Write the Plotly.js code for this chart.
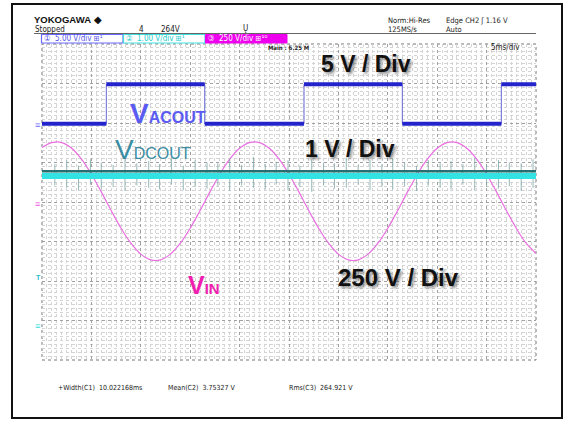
<!DOCTYPE html>
<html><head><meta charset="utf-8">
<script src="https://cdn.plot.ly/plotly-3.0.1.min.js"></script>
<style>
html,body{margin:0;padding:0;background:#fff;overflow:hidden}
#chart{width:566px;height:422px;position:absolute;left:0;top:0}
#frame{position:absolute;left:11px;top:3px;width:548px;height:412px;border:2px solid #111;pointer-events:none}
</style></head>
<body><div id="chart"></div><div id="frame"></div>
<script>
// ---- data ----
const timeMs = [0,1,2,3,4,5,6,7,8,9,10,11,12,13,14,15,16,17,18,19,20,21,22,23,24,25,26,27,28,29,30,31,32,33,34,35,36,37,38,39,40,41,42,43,44,45,46,47,48,49,50];
const vinVolts = [345,376,376,340,271,176,64,-54,-166,-261,-330,-366,-366,-330,-261,-166,-54,64,176,271,340,376,376,340,271,176,64,-54,-166,-261,-330,-366,-366,-330,-261,-166,-54,64,176,271,340,376,376,340,271,176,64,-54,-166,-261,-325];
const acoutEdgesMs = [6.51,16.47,26.52,36.47,46.49];
const acoutLevelsV = [0.1,5.1];           // low, high
const dcoutTimeMs = [0,50];
const dcoutVolts = [3.8,3.8];
const dcoutNoiseTopV = [3.92,3.92];
const spikeTimesMs = [1.3,2.5,3.7,4.9,6.0,7.2,8.4,9.6,10.8,11.9,13.1,14.3,15.5,16.7,17.8,19.0,20.2,21.4,22.6,23.7,24.9,26.1,27.3,28.5,29.6,30.8,32.0,33.2,34.4,35.5,36.7,37.9,39.1,40.3,41.4,42.6,43.8,45.0,46.2,47.3,48.5,49.7];
const spikeUpV   = [0.30,0.40,0.26,0.42,0.34,0.28,0.44,0.32,0.38,0.30,0.46,0.26,0.40,0.34,0.32,0.44,0.28,0.48,0.30,0.36,0.40,0.26,0.42,0.34,0.32,0.46,0.28,0.40,0.30,0.44,0.34,0.26,0.40,0.32,0.38,0.30,0.46,0.28,0.40,0.34,0.32,0.42];
const spikeDownV = [0.24,0.30,0.36,0.22,0.32,0.28,0.38,0.24,0.30,0.34,0.22,0.36,0.28,0.32,0.26,0.38,0.24,0.30,0.34,0.22,0.36,0.28,0.40,0.24,0.32,0.30,0.22,0.36,0.28,0.34,0.26,0.38,0.24,0.30,0.34,0.22,0.36,0.28,0.32,0.26,0.38,0.30];
const measureLabels = ["+Width(C1)  10.022168ms","Mean(C2)  3.75327 V","Rms(C3)  264.921 V"];
const channelLabels = ["\u2460  5.00 V/div \u229e\u00b9","\u2461  1.00 V/div \u229e\u00b9","\u2462  250 V/div \u229e\u00b9\u2070"];

// ---- channel setup (scale in V/div, ground position in div from centre) ----
const ch1 = {scale:5, pos:1.96}, ch2 = {scale:1, pos:-3.14}, ch3 = {scale:250, pos:0};
const rng = c => [(-4 - c.pos)*c.scale, (4 - c.pos)*c.scale];

// build square wave
const sqX = [0], sqY = [acoutLevelsV[0]];
const thickX = [0], thickY = [acoutLevelsV[0]];
let lvl = 0;
acoutEdgesMs.forEach(e => {
  sqX.push(e, e); sqY.push(acoutLevelsV[lvl], acoutLevelsV[1-lvl]);
  thickX.push(e, null, e); thickY.push(acoutLevelsV[lvl], null, acoutLevelsV[1-lvl]);
  lvl = 1-lvl;
});
sqX.push(50); sqY.push(acoutLevelsV[lvl]);
thickX.push(50); thickY.push(acoutLevelsV[lvl]);

const spX = [], spY = [];
spikeTimesMs.forEach((t,i) => { spX.push(t,t,null); spY.push(dcoutVolts[0]+spikeUpV[i], dcoutVolts[0]-spikeDownV[i], null); });

const traces = [
  {x:timeMs, y:vinVolts, yaxis:'y', mode:'lines', line:{color:'#ea6fe2', width:1.2, shape:'spline'}, hoverinfo:'skip'},
  {x:spX, y:spY, yaxis:'y3', mode:'lines', line:{color:'#7aa5a5', width:0.8}, hoverinfo:'skip'},
  {x:dcoutTimeMs, y:dcoutVolts, yaxis:'y3', mode:'lines', line:{color:'#33e3e3', width:6}, hoverinfo:'skip'},
  {x:dcoutTimeMs, y:dcoutNoiseTopV, yaxis:'y3', mode:'lines', line:{color:'#256f70', width:2.5}, hoverinfo:'skip'},
  {x:sqX, y:sqY, yaxis:'y2', mode:'lines', line:{color:'#6a6ad8', width:1}, hoverinfo:'skip'},
  {x:thickX, y:thickY, yaxis:'y2', mode:'lines', line:{color:'#2424cc', width:4}, hoverinfo:'skip'}
];

const L=42, R=536, T=44, B=360;
const px = x => (x-L)/(R-L), py = y => (B-y)/(B-T);
const NARROW = '"Liberation Sans Narrow", "Arial Narrow", "DejaVu Sans Condensed", Arial, sans-serif';
const A = (text, x, y, font, extra) => Object.assign({text, x:px(x), y:py(y), xref:'paper', yref:'paper',
  xanchor:'left', yanchor:'middle', showarrow:false, borderpad:0, font:Object.assign({family:NARROW, size:8, color:'#222'}, font)}, extra||{});
const SH = '2px 2px 3px rgba(0,0,0,0.45)';

const annotations = [
  A('<b>YOKOGAWA</b> \u25c6', 33, 19, {size:9.5, color:'#111', family:'Arial, sans-serif'}),
  A('Stopped', 34, 29.5, {size:8}),
  A('4', 138, 29.5, {size:8}),
  A('264V', 160, 29.5, {size:8}),
  A('\u0172', 242, 29, {size:8}),
  A('Norm:Hi-Res', 387, 20, {size:7.5}),
  A('125MS/s', 387, 29.5, {size:7.5}),
  A('Edge CH2 \u0283 1.16 V', 445, 20, {size:7.5}),
  A('Auto', 445, 29.5, {size:7.5}),
  A(channelLabels[0], 43, 39, {size:8, color:'#5555ee'}),
  A(channelLabels[1], 125, 39, {size:8, color:'#22cccc'}),
  A(channelLabels[2], 207, 39, {size:8, color:'#ffffff'}),
  A('<b>Main : 6.25 M</b>', 267, 48, {size:6}),
  A('5ms/div', 490, 48, {size:8}),
  A('<b>5 V / Div</b>', 320, 64, {size:23, color:'#111', family:'Arial, sans-serif', shadow:SH}),
  A('<b>1 V / Div</b>', 304, 148.5, {size:23, color:'#111', family:'Arial, sans-serif', shadow:SH}),
  A('<b>250 V / Div</b>', 337, 277, {size:24, color:'#111', family:'Arial, sans-serif', shadow:SH}),
  A('<b>V<span style="font-size:16px">ACOUT</span></b>', 129, 114, {size:28, color:'#5b5bf2', family:'Arial, sans-serif'}),
  A('V<span style="font-size:16px">DCOUT</span>', 114, 149, {size:28, color:'#3a8da3', family:'Arial, sans-serif'}),
  A('<b>V<span style="font-size:15px">IN</span></b>', 187, 285, {size:25, color:'#f01fb0', family:'Arial, sans-serif'}),
  A('\u2261', 34, 125, {size:9, color:'#6a6aff', family:'Arial'}),
  A('\u2261', 34, 204, {size:9, color:'#ee55dd', family:'Arial'}),
  A('<b>T</b>', 35, 277, {size:7, color:'#22bbcc', family:'Arial'}),
  A('\u2261', 34, 326, {size:9, color:'#33dddd', family:'Arial'}),
  A(measureLabels[0], 57, 388, {size:7}),
  A(measureLabels[1], 167, 388, {size:7}),
  A(measureLabels[2], 288, 388, {size:7})
];

const shapes = [
  {type:'line', xref:'paper', yref:'paper', x0:px(34), x1:px(536), y0:py(33.5), y1:py(33.5), line:{color:'#666', width:1}},
  {type:'rect', xref:'paper', yref:'paper', x0:px(41.5), x1:px(123), y0:py(34.5), y1:py(43), line:{color:'#6a6aff', width:1.2}, fillcolor:'#fff'},
  {type:'rect', xref:'paper', yref:'paper', x0:px(123.5), x1:px(205), y0:py(34.5), y1:py(43), line:{color:'#44e0e0', width:1.2}, fillcolor:'#fff'},
  {type:'rect', xref:'paper', yref:'paper', x0:px(205.5), x1:px(287), y0:py(34.5), y1:py(43), line:{color:'#ee00ee', width:1}, fillcolor:'#ee00ee'},
  {type:'rect', xref:'paper', yref:'paper', x0:0, x1:1, y0:0, y1:1, line:{color:'#777', width:1, dash:'dot'}, layer:'below'}
];

const gridAxis = (range, dt, mdt) => ({range, dtick:dt, tick0:0, showgrid:true, gridcolor:'#a0a0a0', griddash:'dot', gridwidth:1,
  minor:{dtick:mdt, showgrid:true, gridcolor:'#d4d4d4', gridwidth:1, ticks:''},
  showticklabels:false, ticks:'', zeroline:false, showline:false, fixedrange:true});

const layout = {
  width:566, height:422, margin:{l:L, r:566-R, t:T, b:422-B},
  paper_bgcolor:'#fff', plot_bgcolor:'#fff', showlegend:false,
  xaxis: gridAxis([0,50], 5, 0.5),
  yaxis: gridAxis(rng(ch3), ch3.scale, ch3.scale/10),
  yaxis2:{overlaying:'y', range:rng(ch1), visible:false, fixedrange:true},
  yaxis3:{overlaying:'y', range:rng(ch2), visible:false, fixedrange:true},
  annotations, shapes
};
Plotly.newPlot('chart', traces, layout, {staticPlot:true, displayModeBar:false});
</script></body></html>
